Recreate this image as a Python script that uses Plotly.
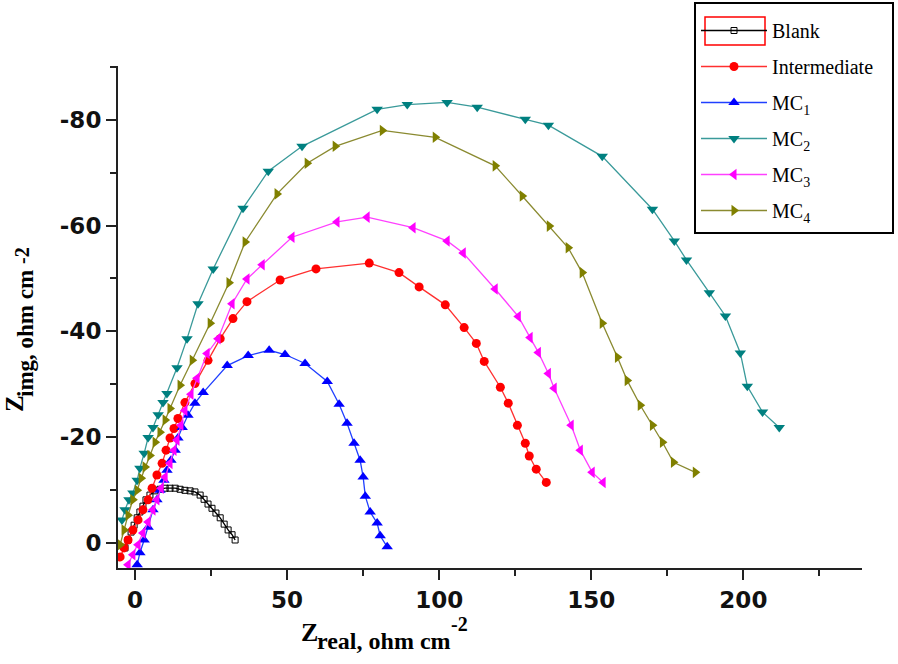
import plotly.graph_objects as go

# ---------------- data (Z_real, Z_img) ----------------
blank_x = [-3.3, -2.3, -1.3, -0.3, 0.7, 1.6, 2.6, 3.6, 4.9, 6.6, 8.2, 9.9, 11.5, 13.2, 14.8, 16.4,
           18.1, 19.7, 21.4, 22.7, 24.0, 25.3, 26.6, 28.0, 29.3, 30.6, 31.9, 32.9]
blank_y = [1.0, -0.5, -2.0, -3.3, -4.7, -5.8, -6.9, -8.1, -9.0, -9.8, -10.1, -10.3, -10.3, -10.3, -10.1, -9.9,
           -9.8, -9.6, -9.0, -8.2, -7.3, -6.5, -5.6, -4.7, -3.5, -2.4, -1.5, -0.5]

inter_x = [-4.9, -3.6, -2.3, -0.7, 1.0, 2.6, 4.3, 5.6, 7.2, 8.9, 10.2, 11.5, 12.8, 14.1, 16.4, 19.7,
           24.0, 28.0, 32.2, 36.8, 47.7, 59.5, 77.0, 86.8, 93.4, 102.0, 108.2, 112.2, 114.8, 120.1,
           122.7, 125.7, 128.3, 129.6, 131.9, 135.2]
inter_y = [2.7, 1.0, -0.5, -2.4, -4.3, -6.2, -8.1, -10.3, -12.8, -15.0, -17.5, -19.8, -21.6, -23.5, -26.5, -30.1,
           -34.5, -38.6, -42.4, -45.6, -49.7, -51.8, -52.9, -51.1, -48.4, -45.0, -40.7, -37.7, -34.3, -29.4,
           -26.4, -22.2, -18.8, -16.4, -13.9, -11.4]

mc1_x = [0.7, 1.6, 3.0, 4.3, 5.9, 7.2, 8.2, 9.5, 10.5, 11.8, 13.2, 14.1, 15.5, 17.4, 19.7, 22.4,
         30.3, 37.2, 44.1, 49.3, 55.9, 63.2, 67.1, 69.7, 72.0, 74.0, 75.0, 75.7, 77.3, 79.6, 80.6, 82.9]
mc1_y = [4.2, 1.9, -0.5, -2.9, -6.2, -8.1, -9.9, -11.8, -13.7, -15.6, -17.5, -19.8, -21.8, -24.1, -26.4, -28.4,
         -33.5, -35.4, -36.4, -35.6, -33.9, -30.5, -26.2, -22.6, -18.8, -15.6, -12.4, -8.8, -5.8, -3.7, -1.3, 0.8]

mc2_x = [-4.3, -3.3, -2.0, -0.7, 0.7, 1.6, 3.0, 4.3, 5.9, 7.6, 9.2, 10.5, 13.8, 17.1, 20.7, 25.7,
         35.5, 43.8, 54.9, 79.6, 89.5, 102.6, 112.5, 128.3, 135.9, 153.6, 170.1, 177.3, 181.3, 188.8,
         194.1, 199.0, 201.3, 206.3, 211.8]
mc2_y = [-4.3, -6.2, -8.1, -9.4, -11.8, -14.1, -16.9, -19.9, -21.8, -24.2, -26.5, -28.2, -33.1, -38.6, -45.2, -51.8,
         -63.3, -70.3, -75.0, -82.0, -82.9, -83.3, -82.4, -80.1, -79.0, -73.1, -63.1, -57.1, -53.5, -47.3,
         -42.9, -35.9, -29.6, -24.7, -21.8]

mc3_x = [-2.3, -0.7, 1.0, 2.6, 4.3, 5.9, 7.2, 8.6, 9.9, 11.5, 12.8, 13.8, 15.1, 16.4, 18.4, 20.4,
         23.7, 27.3, 31.9, 36.8, 41.8, 51.6, 66.4, 76.3, 91.4, 102.6, 107.9, 118.4, 126.0, 129.9,
         132.6, 135.9, 137.8, 143.4, 146.4, 150.3, 153.9]
mc3_y = [4.2, 2.3, 0.4, -1.8, -3.9, -6.2, -8.1, -10.3, -12.4, -15.0, -17.5, -19.4, -22.2, -25.0, -28.1, -31.1,
         -35.8, -38.6, -45.2, -49.9, -52.6, -57.8, -60.7, -61.6, -59.6, -57.1, -54.8, -48.0, -42.8, -38.8,
         -36.0, -32.0, -29.2, -22.2, -17.5, -13.3, -11.4]

mc4_x = [-4.9, -3.6, -2.3, -0.7, 0.7, 2.0, 3.3, 4.9, 6.6, 8.2, 9.9, 11.5, 14.8, 18.8, 24.7, 30.9,
         36.2, 46.7, 56.6, 65.8, 81.3, 98.7, 118.4, 127.3, 136.2, 142.4, 147.0, 153.6, 158.6, 161.8,
         166.1, 170.1, 173.4, 177.0, 184.2]
mc4_y = [0.4, -2.4, -5.2, -8.1, -9.9, -12.2, -14.3, -16.5, -19.0, -20.9, -23.2, -25.4, -29.8, -34.5, -41.5, -49.2,
         -56.9, -66.0, -71.8, -75.0, -78.0, -76.7, -71.3, -65.6, -59.9, -55.8, -51.1, -41.5, -35.1, -30.7,
         -26.0, -22.2, -19.0, -15.2, -13.3]

series_names = ["Blank", "Intermediate", "MC<sub>1</sub>", "MC<sub>2</sub>", "MC<sub>3</sub>", "MC<sub>4</sub>"]

x_tick_vals = [0, 50, 100, 150, 200]
x_tick_text = ["0", "50", "100", "150", "200"]
x_minor_vals = [25, 75, 125, 175, 225]
y_tick_vals = [0, -20, -40, -60, -80]
y_tick_text = ["0", "-20", "-40", "-60", "-80"]
y_minor_vals = [-10, -30, -50, -70, -90]

# ---------------- styles ----------------
styles = [
    dict(color="#000000", symbol="square-open", size=6),
    dict(color="#FF0000", symbol="circle", size=9),
    dict(color="#0000FF", symbol="triangle-up", size=10),
    dict(color="#008080", symbol="triangle-down", size=10),
    dict(color="#FF00FF", symbol="triangle-left", size=10),
    dict(color="#808000", symbol="triangle-right", size=10),
]
line_colors = ["#000000", "#FF3030", "#2040FF", "#3A9A9A", "#FF40FF", "#8A8A30"]

data = [(blank_x, blank_y), (inter_x, inter_y), (mc1_x, mc1_y),
        (mc2_x, mc2_y), (mc3_x, mc3_y), (mc4_x, mc4_y)]

fig = go.Figure()
for i, ((xs, ys), name, st) in enumerate(zip(data, series_names, styles)):
    fig.add_trace(go.Scatter(
        x=xs, y=ys, mode="lines+markers", name=name, legendgroup=str(i),
        line=dict(color=line_colors[i], width=1.3),
        marker=dict(color=st["color"], symbol=st["symbol"], size=st["size"],
                    line=dict(width=1 if i == 0 else 0, color=st["color"])),
    ))

W, H = 898, 664
ml, mr, mt, mb = 118, 36, 66, 96
pw, ph = W - ml - mr, H - mt - mb

def px_x(p):
    return (p - ml) / pw

def px_y(p):
    return (H - mb - p) / ph

tick_font = dict(family="DejaVu Sans", size=23, color="#111111", weight="bold")
serif = "Liberation Serif"

def title_piece(text, cx, cy, size, angle=0):
    return dict(text="<b>" + text + "</b>", xref="paper", yref="paper",
                x=px_x(cx), y=px_y(cy), xanchor="center", yanchor="middle",
                showarrow=False, textangle=angle,
                font=dict(family=serif, size=size, color="#000000"))

annotations = [
    # x-axis title: Z_real, ohm cm^-2
    title_piece("Z", 309, 633, 26),
    title_piece("real, ohm cm", 384, 641, 24),
    title_piece("-2", 459, 624, 20),
    # y-axis title: Z_img, ohm cm^-2 (rotated)
    title_piece("Z", 14, 404, 25, -90),
    title_piece("img, ohm cm", 25, 334, 23, -90),
    title_piece("-2", 22, 256, 20, -90),
]

fig.update_layout(
    width=W, height=H,
    margin=dict(l=ml, r=mr, t=mt, b=mb, autoexpand=False),
    plot_bgcolor="white", paper_bgcolor="white",
    showlegend=True,
    legend=dict(
        x=px_x(696), y=px_y(11), xanchor="left", yanchor="top",
        borderwidth=0, bgcolor="rgba(0,0,0,0)",
        font=dict(family=serif, size=20, color="#000000"),
        itemwidth=66, tracegroupgap=7,
    ),
    xaxis=dict(
        range=[-5.6, 239], showgrid=False, zeroline=False,
        showline=True, linecolor="#222222", linewidth=2,
        ticks="outside", ticklen=10, tickwidth=2, tickcolor="#222222",
        tickmode="array", tickvals=x_tick_vals, ticktext=x_tick_text,
        tickfont=tick_font,
        minor=dict(tickmode="array", tickvals=x_minor_vals, ticks="outside",
                   ticklen=6, tickwidth=2, tickcolor="#222222"),
    ),
    yaxis=dict(
        range=[4.8, -90.2], showgrid=False, zeroline=False,
        showline=True, linecolor="#222222", linewidth=2,
        ticks="outside", ticklen=10, tickwidth=2, tickcolor="#222222",
        tickmode="array", tickvals=y_tick_vals, ticktext=y_tick_text,
        tickfont=tick_font,
        minor=dict(tickmode="array", tickvals=y_minor_vals, ticks="outside",
                   ticklen=6, tickwidth=2, tickcolor="#222222"),
    ),
    annotations=annotations,
    shapes=[
        dict(type="rect", xref="paper", yref="paper",
             x0=px_x(695), x1=px_x(893), y0=px_y(233), y1=px_y(3),
             line=dict(color="#000000", width=2), fillcolor="white", layer="below"),
        dict(type="rect", xref="paper", yref="paper",
             x0=px_x(705), x1=px_x(765), y0=px_y(45), y1=px_y(17),
             line=dict(color="#FF0000", width=1.5), fillcolor="rgba(0,0,0,0)"),
    ],
)

# remove the browser's default 8px page margin so the figure sits at the window's corner
fig.write_html("out.html",
               config={"displayModeBar": False},
               post_script="document.documentElement.style.margin='0';"
                           "document.body.style.margin='0';"
                           "document.body.style.overflow='hidden';")
